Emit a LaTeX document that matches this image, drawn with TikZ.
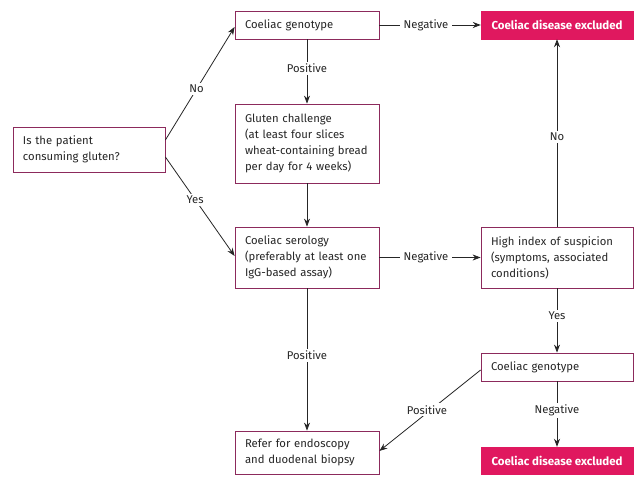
\documentclass[tikz,border=0pt]{standalone}
\usepackage{fontspec}
\setmainfont{Fira Sans}
\usetikzlibrary{arrows.meta,calc}
\definecolor{boxline}{HTML}{8C2A5C}
\definecolor{exfill}{HTML}{E0185F}
\definecolor{txt}{HTML}{262626}
\newcommand\oneline[1]{\mbox{#1}}
\begin{document}
\begin{tikzpicture}[x=1pt,y=-1pt,
  every node/.style={font=\fontsize{11.3}{16}\selectfont, text=txt},
  box/.style={draw=boxline, line width=0.8pt, align=left, inner xsep=10pt, inner ysep=0pt, anchor=center},
  exbox/.style={fill=exfill, draw=exfill, text=white, font=\fontsize{11.5}{16}\selectfont\bfseries, align=center, inner sep=0pt},
  arr/.style={draw=txt, line width=0.8pt, -{Stealth[length=8pt,width=6pt]}},
  lab/.style={fill=white, inner xsep=4pt, inner ysep=2pt}
]
\useasboundingbox[fill=white] (0,0) rectangle (642,486);
\node[box, text width=132pt, minimum height=45pt] (q) at (89,149.5) {\oneline{Is the patient}\\\oneline{consuming gluten?}};
\node[box, text width=124pt, minimum height=28pt] (g1) at (307,25) {\oneline{Coeliac genotype}};
\node[exbox, minimum width=152pt, minimum height=28pt] (ex1) at (557,25) {Coeliac disease excluded};
\node[box, text width=124pt, minimum height=79pt] (gc) at (307,143.5) {\oneline{Gluten challenge}\\\oneline{(at least four slices}\\\oneline{wheat-containing bread}\\\oneline{per day for 4 weeks)}};
\node[box, text width=124pt, minimum height=61pt] (ser) at (307,257.5) {\oneline{Coeliac serology}\\\oneline{(preferably at least one}\\\oneline{IgG-based assay)}};
\node[box, text width=132pt, minimum height=61pt] (hi) at (557,257.5) {\oneline{High index of suspicion}\\\oneline{(symptoms, associated}\\\oneline{conditions)}};
\node[box, text width=132pt, minimum height=28pt] (g2) at (557,367) {\oneline{Coeliac genotype}};
\node[box, text width=124pt, minimum height=43pt] (ref) at (307,452.5) {\oneline{Refer for endoscopy}\\\oneline{and duodenal biopsy}};
\node[exbox, minimum width=152pt, minimum height=27pt] (ex2) at (557,460.5) {Coeliac disease excluded};

\draw[arr] ([yshift=9.5pt]q.east) -- node[lab, pos=0.45] {No} ([yshift=-2pt]g1.west);
\draw[arr] ([yshift=-7.5pt]q.east) -- node[lab, pos=0.43] {Yes} ([yshift=1.5pt]ser.west);
\draw[arr] (g1.south) -- node[lab, pos=0.45] {Positive} (gc.north);
\draw[arr] (gc.south) -- (ser.north);
\draw[arr] (ser.south) -- node[lab, pos=0.47] {Positive} (ref.north);
\draw[arr] (g1.east) -- node[lab, pos=0.46] {Negative} (ex1.west);
\draw[arr] (ser.east) -- node[lab, pos=0.46] {Negative} (hi.west);
\draw[arr] (hi.north) -- node[lab, pos=0.48] {No} (ex1.south);
\draw[arr] (hi.south) -- node[lab, pos=0.43] {Yes} (g2.north);
\draw[arr] (g2.south) -- node[lab, pos=0.44] {Negative} (ex2.north);
\draw[arr] ([yshift=-3pt]g2.west) -- node[lab, pos=0.53, yshift=3pt] {Positive} ([yshift=1.5pt]ref.east);
\end{tikzpicture}
\end{document}
